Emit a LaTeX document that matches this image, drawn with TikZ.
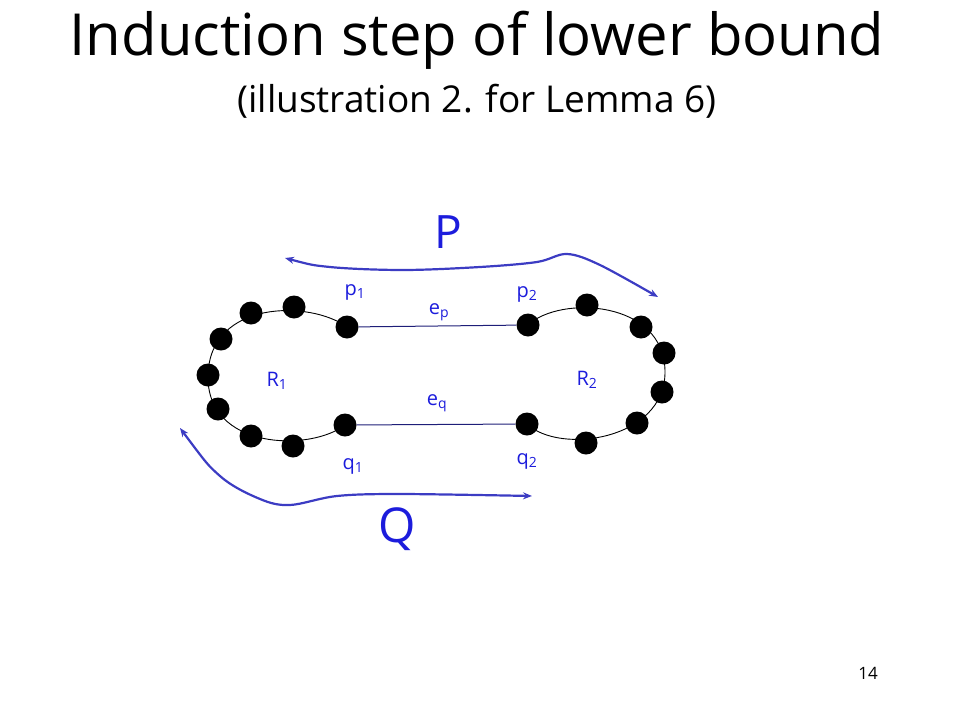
\documentclass[tikz,border=0pt]{standalone}
\usepackage{fontspec}
\setmainfont{Open Sans}
\usetikzlibrary{arrows.meta}
\definecolor{lblue}{RGB}{28,28,220}
\definecolor{ablue}{RGB}{60,60,195}
\definecolor{navy}{RGB}{30,30,120}
\tikzset{
  dotnode/.style={circle,fill=black,inner sep=0pt,minimum size=23pt},
  lbl/.style={text=lblue,font=\fontsize{20}{24}\selectfont,inner sep=0pt},
  ring/.style={black,line width=0.9pt},
  edgeline/.style={navy,line width=1pt},
  patharrow/.style={ablue,line width=2.2pt,{Stealth[length=9pt,width=7pt]}-{Stealth[length=9pt,width=7pt]}},
}
\begin{document}
\begin{tikzpicture}[x=1pt,y=-1pt]
\useasboundingbox (0,0) rectangle (960,720);
% title
\node (title) at (477,40) {\fontsize{58}{66}\selectfont Induction step of lower bound};
\node (subtitle) at (477,101) {\fontsize{37}{42}\selectfont (illustration 2. for Lemma 6)};
\node (pagenum) at (868,673) {\fontsize{17}{20}\selectfont 14};
% ring coordinates
\coordinate (l1) at (347,327);
\coordinate (l2) at (294,307);
\coordinate (l3) at (251,313);
\coordinate (l4) at (221,339);
\coordinate (l5) at (208,375);
\coordinate (l6) at (218,409);
\coordinate (l7) at (251,436);
\coordinate (l8) at (293,446);
\coordinate (l9) at (345,425);
\coordinate (r1) at (528,325);
\coordinate (r2) at (587,305);
\coordinate (r3) at (641,327);
\coordinate (r4) at (664,353);
\coordinate (r5) at (662,392);
\coordinate (r6) at (637,423);
\coordinate (r7) at (586,443);
\coordinate (r8) at (527,424);
\coordinate (lw) at (208,375);
\coordinate (re) at (665,372);
\draw[ring] (l1) .. controls (310,300) and (210,300) .. (lw)
                 .. controls (206,450) and (310,452) .. (l9);
\draw[ring] (r1) .. controls (560,295) and (665,300) .. (re)
                 .. controls (665,440) and (560,455) .. (r8);
% dots
\foreach \n in {l1,l2,l3,l4,l5,l6,l7,l8,l9,r1,r2,r3,r4,r5,r6,r7,r8}
  \node[dotnode] (d\n) at (\n) {};
% edges
\draw[edgeline] (dl1) -- (dr1);
\draw[edgeline] (dl9) -- (dr8);
% labels
\node[lbl] (p1lab) at (355,292) {p\textsubscript{1}};
\node[lbl] (p2lab) at (527,294) {p\textsubscript{2}};
\node[lbl] (q1lab) at (353,466) {q\textsubscript{1}};
\node[lbl] (q2lab) at (527,461) {q\textsubscript{2}};
\node[lbl] (R1lab) at (277,381) {R\textsubscript{1}};
\node[lbl] (R2lab) at (587,380) {R\textsubscript{2}};
\node[lbl] (eplab) at (439,312) {e\textsubscript{p}};
\node[lbl] (eqlab) at (437,403) {e\textsubscript{q}};
\node[text=lblue,font=\fontsize{46}{52}\selectfont] (Plab) at (448,232) {P};
\node[text=lblue,font=\fontsize{48}{54}\selectfont] (Qlab) at (397,529) {Q};
% P and Q arrows
\coordinate (Pa) at (285,258);
\coordinate (Pb) at (658,297);
\coordinate (Qa) at (180,428);
\coordinate (Qb) at (532,496);
\draw[patharrow] plot[smooth,tension=0.55] coordinates {(Pa) (330,267) (403,270) (480,267) (537,262) (567,254) (600,265) (Pb)};
\draw[patharrow] plot[smooth,tension=0.55] coordinates {(Qa) (220,476) (260,499) (290,505) (337,496) (400,494) (Qb)};
\end{tikzpicture}
\end{document}
